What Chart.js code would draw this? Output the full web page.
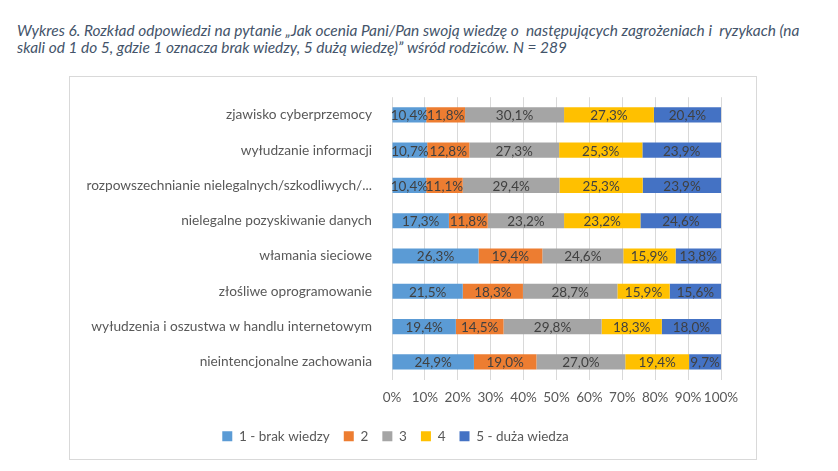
<!DOCTYPE html>
<html lang="pl">
<head>
<meta charset="UTF-8">
<title>Wykres 6</title>
<script src="https://cdn.jsdelivr.net/npm/chart.js@4.4.0/dist/chart.umd.min.js"></script>
<style>
    body { margin: 0; background: #fff; width: 838px; height: 471px; position: relative; overflow: hidden; }
    .title {
        position: absolute; left: 17px; top: 22px;
        font-family: Lato, sans-serif; font-style: italic; font-size: 13px; line-height: 17px;
        color: #44546a; white-space: nowrap;
    }
    .frame {
        position: absolute; left: 69px; top: 76px; width: 686px; height: 382px;
        border: 1px solid #d9d9d9;
    }
</style>
</head>
<body>
<div class="title" id="title"><span id="t1">Wykres 6. Rozkład odpowiedzi na pytanie „Jak ocenia Pani/Pan swoją wiedzę o&nbsp; następujących zagrożeniach i&nbsp; ryzykach (na</span><br>skali od 1 do 5, gdzie 1 oznacza brak wiedzy, 5 dużą wiedzę)” wśród rodziców. N = 289</div>
<div class="frame"><canvas id="myChart" width="686" height="382"></canvas></div>
<script>
    // categories, top to bottom
    const categories = [
        "zjawisko cyberprzemocy",
        "wyłudzanie informacji",
        "rozpowszechnianie nielegalnych/szkodliwych/...",
        "nielegalne pozyskiwanie danych",
        "włamania sieciowe",
        "złośliwe oprogramowanie",
        "wyłudzenia i oszustwa w handlu internetowym",
        "nieintencjonalne zachowania"
    ];
    const seriesNames = ["1 - brak wiedzy", "2", "3", "4", "5 - duża wiedza"];
    const r1 = [10.4, 10.7, 10.4, 17.3, 26.3, 21.5, 19.4, 24.9];
    const r2 = [11.8, 12.8, 11.1, 11.8, 19.4, 18.3, 14.5, 19.0];
    const r3 = [30.1, 27.3, 29.4, 23.2, 24.6, 28.7, 29.8, 27.0];
    const r4 = [27.3, 25.3, 25.3, 23.2, 15.9, 15.9, 18.3, 19.4];
    const r5 = [20.4, 23.9, 23.9, 24.6, 13.8, 15.6, 18.0, 9.7];
    const colors = ["#5b9bd5", "#ed7d31", "#a5a5a5", "#ffc000", "#4472c4"];

    // stretch the title so line 1 ends where it does in the original (~x=800)
    const t1 = document.getElementById("t1");
    const fs = 13 * 783 / t1.getBoundingClientRect().width;
    document.getElementById("title").style.fontSize = fs.toFixed(2) + "px";

    // labels inside the segments (no datalabels plugin available)
    const segLabels = {
        id: "segLabels",
        afterDatasetsDraw(chart) {
            const ctx = chart.ctx;
            ctx.save();
            ctx.font = "13.5px Lato, sans-serif";
            ctx.fillStyle = "#404040";
            ctx.textAlign = "center";
            ctx.textBaseline = "middle";
            chart.data.datasets.forEach(function (ds, i) {
                chart.getDatasetMeta(i).data.forEach(function (bar, j) {
                    const txt = ds.data[j].toFixed(1).replace(".", ",") + "%";
                    ctx.fillText(txt, (bar.x + bar.base) / 2, bar.y + 1);
                });
            });
            ctx.restore();
        }
    };

    const allSeries = [r1, r2, r3, r4, r5];
    const myChart = new Chart(document.getElementById("myChart"), {
        type: "bar",
        data: {
            labels: categories,
            datasets: allSeries.map(function (d, i) {
                return {
                    label: seriesNames[i],
                    data: d,
                    backgroundColor: colors[i],
                    borderWidth: 0,
                    categoryPercentage: 1,
                    barPercentage: 0.43
                };
            })
        },
        options: {
            indexAxis: "y",
            responsive: false,
            animation: false,
            layout: { padding: { top: 18, right: 35, bottom: 6, left: 0 } },
            scales: {
                x: {
                    stacked: true,
                    min: 0,
                    max: 100,
                    grid: { color: "#d9d9d9", drawTicks: false },
                    border: { display: false },
                    ticks: {
                        stepSize: 10,
                        padding: 10,
                        autoSkip: false,
                        maxRotation: 0,
                        minRotation: 0,
                        color: "#595959",
                        font: { family: "Lato", size: 13.5 },
                        callback: function (v) { return v + "%"; }
                    },
                    afterFit: function (s) { s.height = 36; }
                },
                y: {
                    stacked: true,
                    grid: { display: false },
                    border: { display: false },
                    ticks: {
                        padding: 12,
                        color: "#595959",
                        font: { family: "Lato", size: 13.7 }
                    },
                    afterFit: function (s) { s.width = 322; }
                }
            },
            plugins: {
                legend: {
                    position: "bottom",
                    labels: {
                        boxWidth: 10,
                        boxHeight: 10,
                        padding: 14,
                        color: "#595959",
                        font: { family: "Lato", size: 13.5 }
                    }
                },
                tooltip: { enabled: false }
            }
        },
        plugins: [segLabels]
    });
</script>
</body>
</html>
